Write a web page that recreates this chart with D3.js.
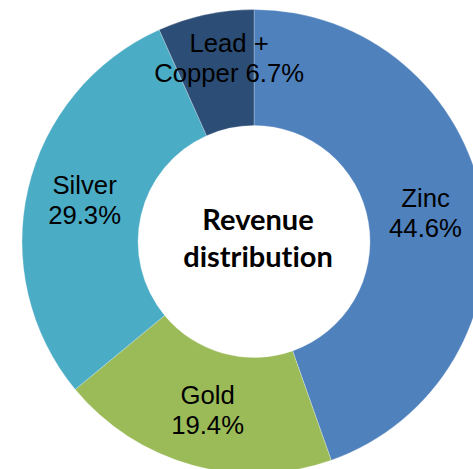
<!DOCTYPE html>
<html>
<head>
<meta charset="utf-8">
<script src="https://cdn.jsdelivr.net/npm/d3@7"></script>
<style>
  html, body { margin: 0; padding: 0; background: #fff; }
  svg { display: block; }
</style>
</head>
<body>
<svg id="chart" width="473" height="469"></svg>
<script>
const categories = ["Zinc", "Gold", "Silver", "Lead +\nCopper"];
const values = [44.6, 19.4, 29.3, 6.7];
const valueLabels = ["44.6%", "19.4%", "29.3%", "6.7%"];
const colors = ["#4F81BD", "#9BBB59", "#4BACC6", "#2C4D75"];
const centerTitle = ["Revenue", "distribution"];

const svg = d3.select("#chart");
const W = 473, H = 469;
const cx = 254, cy = 241.5;
const outerR = 232, innerR = 116;

const g = svg.append("g").attr("transform", `translate(${cx},${cy})`);

const pie = d3.pie().sort(null).value(d => d.value);
const data = categories.map((c, i) => ({ name: c, value: values[i], label: valueLabels[i], color: colors[i] }));
const arcs = pie(data);
const arc = d3.arc().innerRadius(innerR).outerRadius(outerR);

g.selectAll("path.slice")
  .data(arcs)
  .enter().append("path")
  .attr("class", "slice")
  .attr("d", arc)
  .attr("fill", d => d.data.color)
  .attr("stroke", "rgba(255,255,255,0.35)")
  .attr("stroke-width", 0.75);

// label adjustments (Excel moved the small slice's label)
const labelShift = [[0, 0], [0, 0], [0, -2], [11.5, -14]];

g.selectAll("text.lbl")
  .data(arcs)
  .enter().append("text")
  .attr("class", "lbl")
  .attr("font-family", "'Liberation Sans', Arial, sans-serif")
  .attr("font-size", 25.7)
  .attr("fill", "#000")
  .attr("text-anchor", "middle")
  .each(function(d, i) {
    const [x, y] = arc.centroid(d);
    const sx = x + labelShift[i][0], sy = y + labelShift[i][1];
    const parts = d.data.name.split("\n");
    const lines = parts.length > 1 ? [parts[0], parts[1] + " " + d.data.label] : [parts[0], d.data.label];
    const t = d3.select(this);
    t.append("tspan").attr("x", sx).attr("y", sy - 5.5).text(lines[0]);
    t.append("tspan").attr("x", sx).attr("y", sy + 24.5).text(lines[1]);
  });

const ct = g.append("text")
  .attr("text-anchor", "middle")
  .attr("font-family", "Lato, 'Open Sans', sans-serif")
  .attr("font-weight", "bold")
  .attr("font-size", 29)
  .style("font-variant-ligatures", "none")
  .style("font-feature-settings", "'liga' 0, 'clig' 0")
  .attr("fill", "#000");
ct.append("tspan").attr("x", 4).attr("y", -11.5).text(centerTitle[0]);
ct.append("tspan").attr("x", 4).attr("y", 25.5).text(centerTitle[1]);
</script>
</body>
</html>
